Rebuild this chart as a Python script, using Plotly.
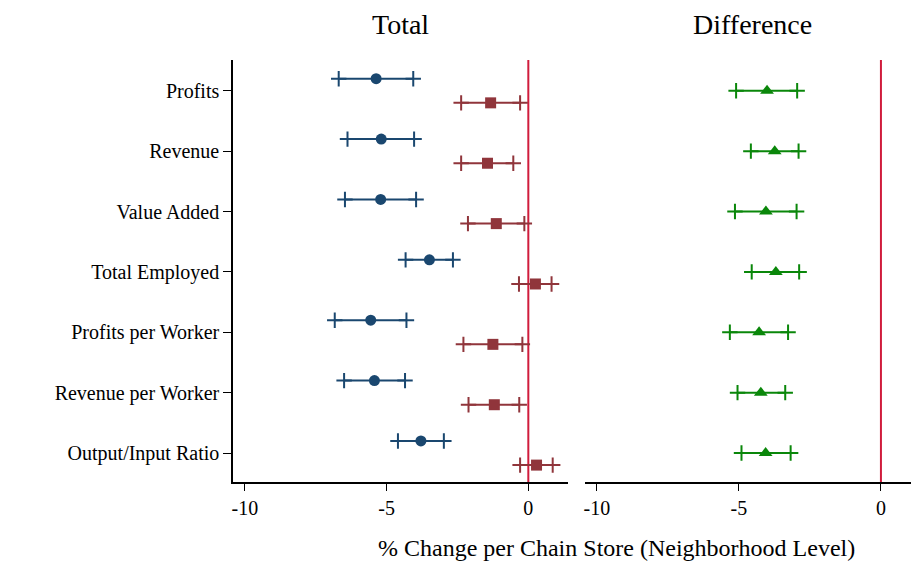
import plotly.graph_objects as go

# outcomes, top to bottom
outcomes = ["Profits", "Revenue", "Value Added", "Total Employed",
            "Profits per Worker", "Revenue per Worker", "Output/Input Ratio"]

# Total panel, first series (blue circles)
blue_est = [-5.37, -5.19, -5.21, -3.49, -5.56, -5.43, -3.79]
blue_lo = [-6.69, -6.38, -6.47, -4.33, -6.83, -6.50, -4.60]
blue_hi = [-4.06, -4.03, -3.96, -2.66, -4.30, -4.35, -2.98]

# Total panel, second series (red squares)
red_est = [-1.33, -1.44, -1.13, 0.25, -1.25, -1.20, 0.29]
red_lo = [-2.37, -2.37, -2.13, -0.33, -2.29, -2.11, -0.29]
red_hi = [-0.29, -0.53, -0.14, 0.82, -0.21, -0.32, 0.86]

# Difference panel (green triangles)
green_est = [-4.01, -3.74, -4.05, -3.70, -4.29, -4.23, -4.06]
green_lo = [-5.10, -4.58, -5.14, -4.55, -5.32, -5.05, -4.91]
green_hi = [-2.95, -2.90, -2.97, -2.88, -3.27, -3.37, -3.18]

pos = list(range(1, len(outcomes) + 1))
FONT = "Liberation Serif"

# page body has an 8px margin, so the figure is a bit smaller than the window
W, H = 911, 555


def add_series(fig, est, lo, hi, offset, color, symbol, size, xa, ya):
    ys = [p + offset for p in pos]
    xs, yy = [], []
    for l, h, y in zip(lo, hi, ys):
        xs += [l, h, None]
        yy += [y, y, None]
    # CI line with "+" shaped ends
    fig.add_trace(go.Scatter(
        x=xs, y=yy, mode="lines+markers", xaxis=xa, yaxis=ya,
        line=dict(color=color, width=2),
        marker=dict(symbol="cross-thin", size=11, line=dict(color=color, width=2)),
        hoverinfo="skip", showlegend=False,
    ))
    fig.add_trace(go.Scatter(
        x=est, y=ys, mode="markers", xaxis=xa, yaxis=ya,
        marker=dict(symbol=symbol, size=size, color=color),
        showlegend=False,
    ))


fig = go.Figure()
add_series(fig, blue_est, blue_lo, blue_hi, -0.2, "#1a476f", "circle", 11, "x", "y")
add_series(fig, red_est, red_lo, red_hi, 0.2, "#90353b", "square", 11, "x", "y")
add_series(fig, green_est, green_lo, green_hi, 0.0, "#0a870a", "triangle-up", 12, "x2", "y2")

xticks = [-10, -5, 0]
xaxis_common = dict(
    tickvals=xticks, ticktext=[str(t) for t in xticks],
    showline=True, linecolor="black", linewidth=1.5, ticks="outside",
    ticklen=7, tickcolor="black", showgrid=False, zeroline=False,
    tickfont=dict(size=20, color="black", family=FONT), fixedrange=True,
)

fig.update_layout(
    width=W, height=H,
    margin=dict(l=0, r=0, t=52, b=81),
    plot_bgcolor="white", paper_bgcolor="white",
    font=dict(family=FONT, color="black"),
    xaxis=dict(domain=[225 / W, 560 / W], range=[-10.42, 1.4], **xaxis_common),
    xaxis2=dict(domain=[577 / W, 1.0], range=[-10.42, 1.34], anchor="y2", **xaxis_common),
    yaxis=dict(
        range=[7.48, 0.49], tickvals=pos, ticktext=outcomes,
        showline=True, linecolor="black", linewidth=1.5, ticks="outside",
        ticklen=8, tickcolor="black", showgrid=False, zeroline=False,
        tickfont=dict(size=20, color="black", family=FONT), automargin=False,
    ),
    yaxis2=dict(
        range=[7.48, 0.49], anchor="x2", showticklabels=False,
        showline=False, showgrid=False, zeroline=False, ticks="",
    ),
    shapes=[
        dict(type="line", xref="x", yref="y domain", x0=0, x1=0, y0=0, y1=1,
             line=dict(color="#d01c3c", width=2), layer="below"),
        dict(type="line", xref="x2", yref="y2 domain", x0=0, x1=0, y0=0, y1=1,
             line=dict(color="#d01c3c", width=2), layer="below"),
    ],
    annotations=[
        dict(text="Total", x=(225 + 560) / 2 / W, y=1, yref="paper", xref="paper",
             xanchor="center", yanchor="top", yshift=52, borderpad=0, showarrow=False,
             font=dict(size=28, family=FONT)),
        dict(text="Difference", x=(577 + 911) / 2 / W, y=1, yref="paper", xref="paper",
             xanchor="center", yanchor="top", yshift=52, borderpad=0, showarrow=False,
             font=dict(size=28, family=FONT)),
        dict(text="% Change per Chain Store (Neighborhood Level)", x=608 / W, y=0,
             xref="paper", yref="paper", xanchor="center", yanchor="middle",
             yshift=-66, showarrow=False, font=dict(size=24, family=FONT)),
    ],
)

fig.write_html("out.html")
